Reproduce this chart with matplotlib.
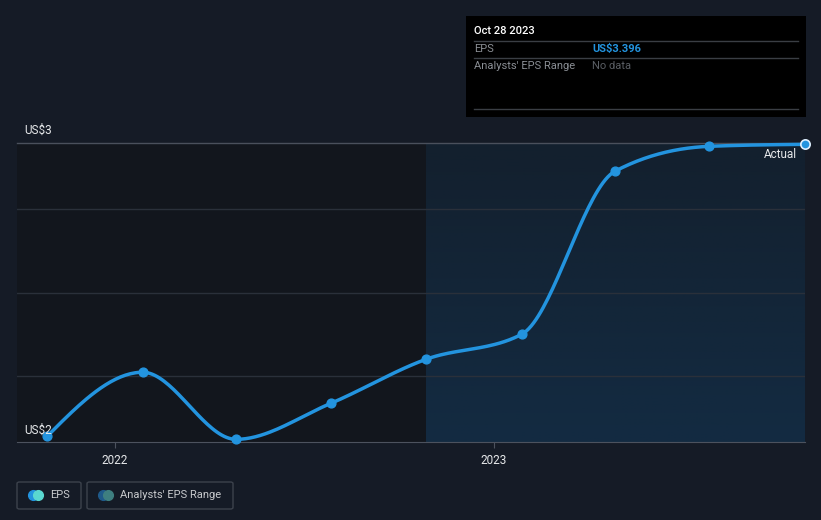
import matplotlib
matplotlib.use("Agg")
import matplotlib.pyplot as plt
import matplotlib.dates as mdates
from matplotlib.patches import Rectangle, FancyBboxPatch
import numpy as np

plt.rcParams['font.family'] = ['Roboto', 'DejaVu Sans']

# data
dates = ["2021-10-28", "2022-01-28", "2022-04-28", "2022-07-28", "2022-10-28",
         "2023-01-28", "2023-04-28", "2023-07-28", "2023-10-28"]
eps = [2.517, 2.71, 2.508, 2.616, 2.749, 2.824, 3.315, 3.39, 3.396]
year_ticks = ["2022-01-01", "2023-01-01"]
year_labels = ["2022", "2023"]

W, H = 821, 520
bg = "#151b26"
blue = "#2394df"

x = mdates.date2num(np.array(dates, dtype="datetime64[D]"))
y = np.array(eps)

# monotone cubic (like d3 curveMonotoneX) just for drawing the line
def monotone(xs, ys, n=40):
    h = np.diff(xs)
    s = np.diff(ys) / h
    m = np.zeros(len(xs))
    for i in range(1, len(xs) - 1):
        if s[i - 1] * s[i] <= 0:
            m[i] = 0
        else:
            p = (s[i - 1] * h[i] + s[i] * h[i - 1]) / (h[i - 1] + h[i])
            m[i] = (np.sign(s[i - 1]) + np.sign(s[i])) * min(abs(s[i - 1]), abs(s[i]), 0.5 * abs(p))
    m[0] = (3 * s[0] - m[1]) / 2 if len(xs) > 2 else s[0]
    m[-1] = (3 * s[-1] - m[-2]) / 2
    px, py = [], []
    for i in range(len(xs) - 1):
        t = np.linspace(0, 1, n)
        h00 = 2 * t**3 - 3 * t**2 + 1
        h10 = t**3 - 2 * t**2 + t
        h01 = -2 * t**3 + 3 * t**2
        h11 = t**3 - t**2
        px.append(xs[i] + t * h[i])
        py.append(h00 * ys[i] + h10 * h[i] * m[i] + h01 * ys[i + 1] + h11 * h[i] * m[i + 1])
    return np.concatenate(px), np.concatenate(py)

fig = plt.figure(figsize=(W / 100, H / 100), dpi=100, facecolor=bg)

def fx(px):
    return px / W

def fy(py):
    return 1 - py / H

ax = fig.add_axes([fx(17), fy(442), fx(805) - fx(17), fy(143) - fy(442)])
ax.set_facecolor(bg)
x0 = x[0] - 29
ax.set_xlim(x0, x[-1])
ax.set_ylim(2.5, 3.4)

# shaded regions
ax.axvspan(x0, x[4], color="#12161d", zorder=0)
grad = np.linspace(0, 1, 100).reshape(-1, 1)
cmap = matplotlib.colors.LinearSegmentedColormap.from_list("g", ["#13202e", "#132b42"])
ax.imshow(grad, extent=[x[4], x[-1], 2.5, 3.4], aspect="auto", cmap=cmap, origin="upper", zorder=0)

# gridlines
for gv in [2.7, 2.95, 3.2]:
    ax.axhline(gv, color="#2a303a", lw=1, zorder=1)
ax.axhline(3.4, color="#4a505c", lw=1, zorder=1, clip_on=False)

for sp in ax.spines.values():
    sp.set_visible(False)
ax.spines["bottom"].set_visible(True)
ax.spines["bottom"].set_color("#4c525e")
ax.set_yticks([])
ax.set_xticks(mdates.date2num(np.array(year_ticks, dtype="datetime64[D]")))
ax.set_xticklabels(year_labels, color="#e6e8ea", fontsize=8.5)
ax.tick_params(axis="x", colors="#4c525e", length=4, labelcolor="#e6e8ea", pad=5)

cx, cy = monotone(x, y)
ax.plot(cx, cy, color=blue, lw=2.5, zorder=3, clip_on=False, solid_capstyle="round")
ax.scatter(x[:-1], y[:-1], s=40, color=blue, zorder=4, clip_on=False)
ax.scatter(x[-1:], y[-1:], s=45, color=blue, edgecolor="#dff0ff", linewidth=1.2, zorder=5, clip_on=False)

# y labels
fig.text(fx(24), fy(130), "US$3", color="#e6e8ea", fontsize=8.5, va="center", ha="left")
fig.text(fx(24), fy(430), "US$2", color="#e6e8ea", fontsize=8.5, va="center", ha="left", zorder=2)
fig.text(fx(797), fy(154), "Actual", color="#e6e8ea", fontsize=8.5, va="center", ha="right")

# tooltip box
fig.patches.append(Rectangle((fx(466), fy(117)), fx(806) - fx(466), fy(16) - fy(117),
                             transform=fig.transFigure, facecolor="#000000", edgecolor="none", zorder=5))
for ly in [41, 58, 109]:
    fig.add_artist(plt.Line2D([fx(474), fx(798)], [fy(ly), fy(ly)], color="#3a3e44", lw=1, zorder=6))
fig.text(fx(474), fy(31), "Oct 28 2023", color="#ffffff", fontsize=8, fontweight="medium", va="center", zorder=7)
fig.text(fx(474), fy(49), "EPS", color="#8a8e94", fontsize=8, va="center", zorder=7)
fig.text(fx(592), fy(49), "US$3.396", color=blue, fontsize=8, fontweight="bold", va="center", zorder=7)
fig.text(fx(474), fy(66), "Analysts' EPS Range", color="#8a8e94", fontsize=8, va="center", zorder=7)
fig.text(fx(592), fy(66), "No data", color="#5a5e64", fontsize=8, va="center", zorder=7)

# legend
for bx, bw in [(17, 64), (87, 146)]:
    fig.patches.append(FancyBboxPatch((fx(bx), fy(509)), fx(bw), fy(482) - fy(509),
                                      boxstyle="round,pad=0,rounding_size=0.003",
                                      transform=fig.transFigure, facecolor="none",
                                      edgecolor="#3c424c", lw=1))
fig.add_artist(plt.Line2D([fx(33)], [fy(495)], marker="o", ms=7, color="#2394df", lw=0))
fig.add_artist(plt.Line2D([fx(38)], [fy(495)], marker="o", ms=7, color="#5ad8d0", lw=0))
fig.text(fx(50), fy(495), "EPS", color="#c8cacd", fontsize=8, va="center")
fig.add_artist(plt.Line2D([fx(103)], [fy(495)], marker="o", ms=7, color="#1f5a8a", lw=0))
fig.add_artist(plt.Line2D([fx(108)], [fy(495)], marker="o", ms=7, color="#3e7f80", lw=0))
fig.text(fx(120), fy(495), "Analysts' EPS Range", color="#c8cacd", fontsize=8, va="center")

fig.savefig("out.png", dpi=100, facecolor=bg)
